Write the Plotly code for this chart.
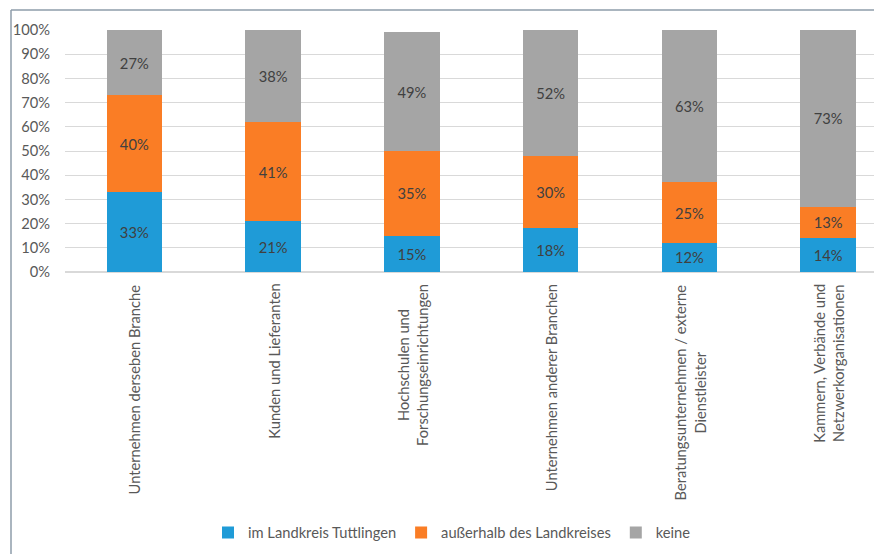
import plotly.graph_objects as go

# Kategorien (Kooperationspartner) und Anteile in Prozent
categories = [
    "Unternehmen derseben Branche",
    "Kunden und Lieferanten",
    "Hochschulen und<br>Forschungseinrichtungen",
    "Unternehmen anderer Branchen",
    "Beratungsunternehmen / externe<br>Dienstleister",
    "Kammern, Verbände und<br>Netzwerkorganisationen",
]
im_landkreis = [33, 21, 15, 18, 12, 14]
ausserhalb = [40, 41, 35, 30, 25, 13]
keine = [27, 38, 49, 52, 63, 73]

series_names = ["im Landkreis Tuttlingen", "außerhalb des Landkreises", "keine"]
series_values = [im_landkreis, ausserhalb, keine]
series_colors = ["#1F9BD7", "#FA7D25", "#A5A5A5"]

y_ticks = list(range(0, 101, 10))
y_tick_labels = [f"{v}%" for v in y_ticks]

FONT = "Lato"
FS = 14.7
TEXT_COLOR = "#595959"

W, H = 874, 554
L, R, T, B = 65, 0, 30, 282
plot_w = W - L - R
plot_h = H - T - B

x_idx = list(range(len(categories)))

fig = go.Figure()
for name, vals, col in zip(series_names, series_values, series_colors):
    fig.add_trace(go.Bar(
        x=x_idx, y=vals, name=name,
        marker=dict(color=col, line=dict(width=0)),
        width=0.4,
        text=[f"{v}%" for v in vals],
        textposition="inside",
        insidetextanchor="middle",
        textangle=0,
        constraintext="none",
        textfont=dict(family=FONT, size=FS, color="#404040"),
        hoverinfo="skip",
    ))

def px_x(p):
    return (p - L) / plot_w

def px_y(p):
    return (H - B - p) / plot_h

# Rotated category labels below the axis
for i, cat in enumerate(categories):
    fig.add_annotation(
        x=i, xref="x", y=px_y(282), yref="paper",
        text=cat, textangle=-90, showarrow=False,
        xanchor="center", yanchor="top", align="center",
        font=dict(family=FONT, size=FS, color=TEXT_COLOR),
    )

# Outer frame lines (top and left)
frame = dict(color="#8E9DAA", width=1.5)
fig.add_shape(type="line", xref="paper", yref="paper",
              x0=px_x(11), x1=px_x(874), y0=px_y(10), y1=px_y(10), line=frame)
fig.add_shape(type="line", xref="paper", yref="paper",
              x0=px_x(11), x1=px_x(11), y0=px_y(10), y1=px_y(554), line=frame)

fig.update_layout(
    width=W, height=H,
    margin=dict(l=L, r=R, t=T, b=B),
    barmode="stack",
    plot_bgcolor="white", paper_bgcolor="white",
    font=dict(family=FONT, size=FS, color=TEXT_COLOR),
    showlegend=True,
    legend=dict(
        orientation="h", x=px_x(452), xanchor="center",
        y=px_y(533), yanchor="middle",
        font=dict(family=FONT, size=FS, color=TEXT_COLOR),
        traceorder="normal", itemclick=False, itemwidth=30,
    ),
    xaxis=dict(
        range=[-0.5, 5.33], showticklabels=False, showgrid=False,
        zeroline=False, showline=True, linecolor="#D9D9D9", linewidth=1,
        ticks="", fixedrange=True,
    ),
    yaxis=dict(
        range=[0, 100], tickmode="array", tickvals=y_ticks, ticktext=y_tick_labels,
        showgrid=True, gridcolor="#D9D9D9", gridwidth=1,
        zeroline=True, zerolinecolor="#D9D9D9",
        ticks="", ticklabelstandoff=14, fixedrange=True,
        tickfont=dict(family=FONT, size=FS, color=TEXT_COLOR),
    ),
)

fig.write_html("out.html")
